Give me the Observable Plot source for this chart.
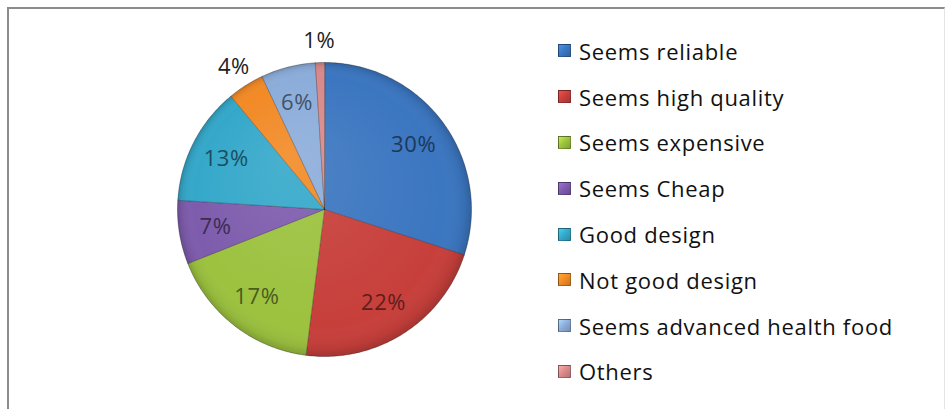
<!DOCTYPE html>
<html>
<head>
<meta charset="utf-8">
<script src="https://cdn.jsdelivr.net/npm/d3@7"></script>
<script src="https://cdn.jsdelivr.net/npm/@observablehq/plot@0.6"></script>
<style>
  html, body { margin: 0; padding: 0; background: #fff; }
  #wrap { position: relative; width: 948px; height: 409px; overflow: hidden; background: #fff; font-family: "Open Sans", Lato, sans-serif; }
  #frame { position: absolute; left: 7px; top: 7px; right: 3px; bottom: -4px; border-left: 2px solid #8c8c8c; border-top: 2px solid #8c8c8c; border-right: 1px solid #e4e4e4; }
  #chart { position: absolute; left: 0; top: 0; }
  #legend { position: absolute; left: 558px; top: 28px; }
  .row { height: 45.8px; display: flex; align-items: center; }
  .sw { width: 13px; height: 13px; margin-right: 8px; border: 1px solid rgba(0,0,0,0.35); box-sizing: border-box; }
  .lab { font-size: 22px; color: #111; white-space: nowrap; letter-spacing: 0.7px; }
  #chart text { letter-spacing: 0.6px; }
</style>
</head>
<body>
<div id="wrap">
  <div id="frame"></div>
  <div id="chart"></div>
  <div id="legend"></div>
</div>
<script>
const categories = ["Seems reliable", "Seems high quality", "Seems expensive", "Seems Cheap", "Good design", "Not good design", "Seems advanced health food", "Others"];
const shares = [30, 22, 17, 7, 13, 4, 6, 1];
const labels = ["30%", "22%", "17%", "7%", "13%", "4%", "6%", "1%"];
const palette = ["#3B76C0", "#C73F3B", "#9CC23F", "#7E5CAD", "#35A8CA", "#F28A26", "#8CADDA", "#D9898B"];

const total = d3.sum(shares);
let acc = 0;
const slices = categories.map((c, i) => {
  const a0 = acc / total * 2 * Math.PI;
  acc += shares[i];
  const a1 = acc / total * 2 * Math.PI;
  return {cat: c, share: shares[i], label: labels[i], color: palette[i], a0, a1};
});

// slice outlines (centre + arc), derived from the shares
const pts = [];
for (const s of slices) {
  pts.push({cat: s.cat, color: s.color, x: 0, y: 0});
  const n = Math.max(2, Math.ceil((s.a1 - s.a0) / (Math.PI / 180)));
  for (let k = 0; k <= n; k++) {
    const a = s.a0 + (s.a1 - s.a0) * k / n;
    pts.push({cat: s.cat, color: s.color, x: Math.sin(a), y: Math.cos(a)});
  }
}

const labelPts = slices.map(s => {
  const m = (s.a0 + s.a1) / 2;
  const outside = s.share < 5;
  const r = outside ? 1.15 : 0.75;
  return {
    x: r * Math.sin(m), y: r * Math.cos(m), label: s.label,
    color: outside ? "#222222" : d3.color(s.color).darker(2.1).formatHex()
  };
});

const cx = 324, cy = 209, R = 147;
const plot = Plot.plot({
  width: 948,
  height: 409,
  margin: 0,
  x: {domain: [-1, 1], range: [cx - R, cx + R], axis: null},
  y: {domain: [-1, 1], range: [cy + R, cy - R], axis: null},
  color: {type: "identity"},
  style: {background: "transparent", fontFamily: "'Open Sans', Lato, sans-serif"},
  marks: [
    Plot.line(pts, {x: "x", y: "y", z: "cat", fill: "color", stroke: "rgba(0,0,0,0.28)", strokeWidth: 1, curve: "linear-closed"}),
    Plot.line(pts, {x: "x", y: "y", z: "cat", fill: "url(#bevel)", stroke: "none", curve: "linear-closed"}),
    Plot.text(labelPts, {x: "x", y: "y", text: "label", fill: "color", fontSize: 22})
  ]
});

// radial shading overlay, placed with the plot's own scales
const sx = plot.scale("x"), sy = plot.scale("y");
const px = sx.apply(0), py = sy.apply(0), pr = sx.apply(1) - sx.apply(0);
const ns = "http://www.w3.org/2000/svg";
const defs = document.createElementNS(ns, "defs");
defs.innerHTML = `<radialGradient id="bevel" gradientUnits="userSpaceOnUse" cx="${px}" cy="${py}" r="${pr}" fx="${px - pr * 0.25}" fy="${py - pr * 0.35}">
  <stop offset="0" stop-color="#fff" stop-opacity="0.10"/>
  <stop offset="0.85" stop-color="#fff" stop-opacity="0.0"/>
  <stop offset="0.96" stop-color="#000" stop-opacity="0.06"/>
  <stop offset="1" stop-color="#000" stop-opacity="0.18"/>
</radialGradient>`;
plot.insertBefore(defs, plot.firstChild);
document.getElementById("chart").appendChild(plot);

const legend = document.getElementById("legend");
categories.forEach((c, i) => {
  const row = document.createElement("div");
  row.className = "row";
  const sw = document.createElement("div");
  sw.className = "sw";
  const col = d3.color(palette[i]);
  sw.style.background = `linear-gradient(135deg, ${col.brighter(0.6)} 0%, ${palette[i]} 50%, ${col.darker(0.5)} 100%)`;
  const lab = document.createElement("span");
  lab.className = "lab";
  lab.textContent = c;
  row.appendChild(sw);
  row.appendChild(lab);
  legend.appendChild(row);
});
</script>
</body>
</html>
